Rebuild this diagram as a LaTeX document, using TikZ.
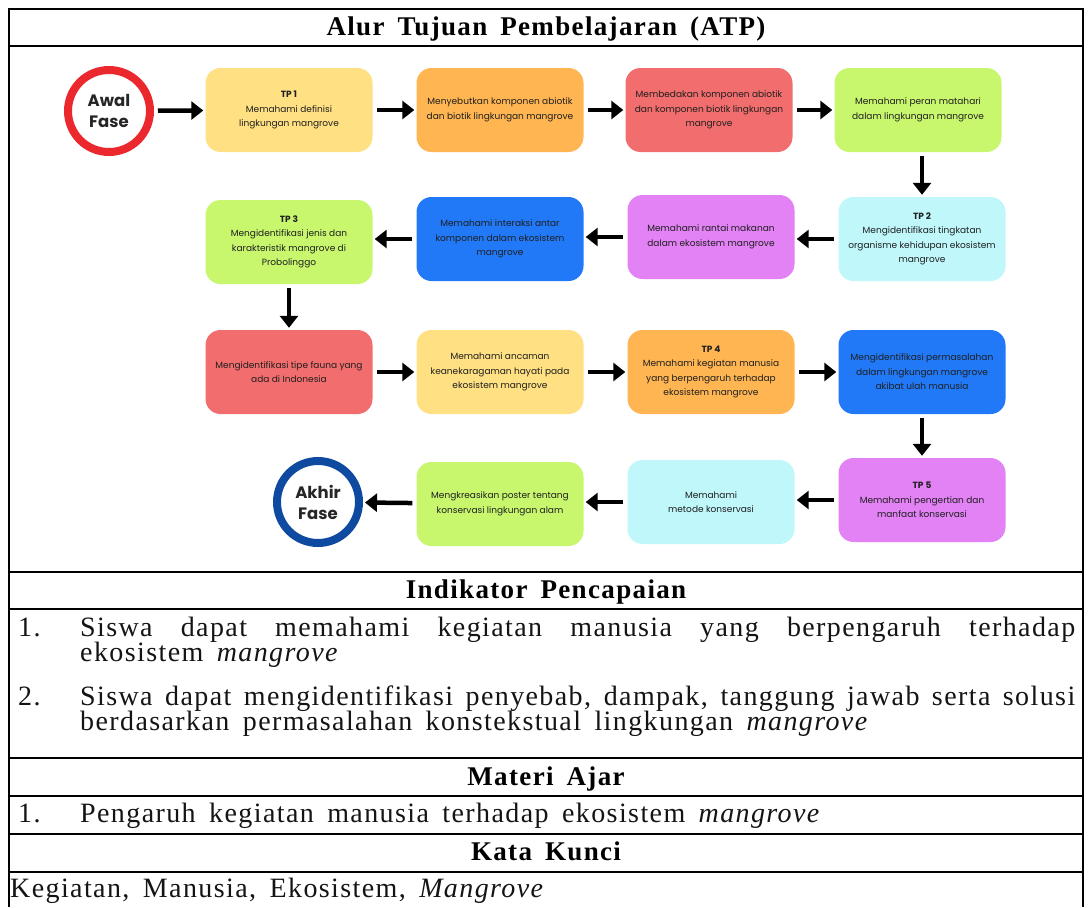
\documentclass[tikz,border=0pt]{standalone}
\usepackage{fontspec}
\setmainfont{Liberation Serif}[LetterSpace=5,WordSpace=1.6]
\newfontfamily\boxfont{Poppins}
\usetikzlibrary{arrows.meta}
\definecolor{cyel}{HTML}{FFE083}
\definecolor{cora}{HTML}{FFB552}
\definecolor{cred}{HTML}{F26D6D}
\definecolor{cgrn}{HTML}{C8F76E}
\definecolor{ccya}{HTML}{BFF7FA}
\definecolor{cpur}{HTML}{E282F4}
\definecolor{cblu}{HTML}{2179F7}
\definecolor{ringred}{HTML}{EB282D}
\definecolor{ringblue}{HTML}{0E4BA0}
\begin{document}
\begin{tikzpicture}[x=1pt,y=-1pt,
  tpbox/.style={rounded corners=15pt, minimum width=167pt, minimum height=84pt, inner sep=0pt, align=center, font=\boxfont\fontsize{9}{14.5}\selectfont, text=black!88},
  ring/.style={circle, minimum size=82pt, line width=8pt, fill=white, inner sep=0pt, align=center, font=\boxfont\bfseries\fontsize{16.5}{21}\selectfont, text=black!85},
  arr/.style={line width=4.5pt, -{Triangle[length=12pt,width=18pt]}, shorten <=4pt, shorten >=2pt},
  rule/.style={line width=2pt},
  body/.style={anchor=base west, inner sep=0pt, font=\fontsize{28}{25}\selectfont, text=black!92},
  head/.style={anchor=base, inner sep=0pt, font=\bfseries\fontsize{27}{28}\selectfont}]
\useasboundingbox (0,0) rectangle (1091,907);
% table
\foreach \yy in {9,46.5,571.5,609,758,796,834,872}{\draw[rule] (9,\yy) -- (1083,\yy);}
\draw[rule] (9,8) -- (9,907);
\draw[rule] (1083,8) -- (1083,907);
% headings
\node[head] (title) at (546,36) {Alur Tujuan Pembelajaran (ATP)};
\node[head] (ind) at (546,598) {Indikator Pencapaian};
\node[head] (mat) at (546,785) {Materi Ajar};
\node[head] (kk) at (546,860) {Kata Kunci};
% indicators
\node[body] (n1) at (18,636) {1.};
\node[body] (i1a) at (80,636) {\makebox[995pt][s]{Siswa dapat memahami kegiatan manusia yang berpengaruh terhadap}};
\node[body] (i1b) at (80,661) {ekosistem \textit{mangrove}};
\node[body] (n2) at (18,705) {2.};
\node[body] (i2a) at (80,705) {\makebox[995pt][s]{Siswa dapat mengidentifikasi penyebab, dampak, tanggung jawab serta solusi}};
\node[body] (i2b) at (80,730) {berdasarkan permasalahan konstekstual lingkungan \textit{mangrove}};
\node[body] (n3) at (18,822) {1.};
\node[body] (m1) at (80,822) {Pengaruh kegiatan manusia terhadap ekosistem \textit{mangrove}};
\node[body] (k1) at (10,897) {Kegiatan, Manusia, Ekosistem, \textit{Mangrove}};
% flowchart row 1
\node[ring, draw=ringred] (awal) at (109,111) {Awal\\Fase};
\node[tpbox, fill=cyel] (b11) at (289,110) {\textbf{TP 1}\\Memahami definisi\\lingkungan mangrove};
\node[tpbox, fill=cora] (b12) at (500,110) {Menyebutkan komponen abiotik\\dan biotik lingkungan mangrove};
\node[tpbox, fill=cred] (b13) at (709,110) {Membedakan komponen abiotik\\dan komponen biotik lingkungan\\mangrove};
\node[tpbox, fill=cgrn] (b14) at (918,110) {Memahami peran matahari\\dalam lingkungan mangrove};
% row 2
\node[tpbox, fill=ccya] (b24) at (922,239) {\textbf{TP 2}\\Mengidentifikasi tingkatan\\organisme kehidupan ekosistem\\mangrove};
\node[tpbox, fill=cpur] (b23) at (711,237) {Memahami rantai makanan\\dalam ekosistem mangrove};
\node[tpbox, fill=cblu] (b22) at (500,239) {Memahami interaksi antar\\komponen dalam ekosistem\\mangrove};
\node[tpbox, fill=cgrn] (b21) at (289,242) {\textbf{TP 3}\\Mengidentifikasi jenis dan\\karakteristik mangrove di\\Probolinggo};
% row 3
\node[tpbox, fill=cred] (b31) at (289,372) {Mengidentifikasi tipe fauna yang\\ada di Indonesia};
\node[tpbox, fill=cyel] (b32) at (500,372) {Memahami ancaman\\keanekaragaman hayati pada\\ekosistem mangrove};
\node[tpbox, fill=cora] (b33) at (711,372) {\textbf{TP 4}\\Memahami kegiatan manusia\\yang berpengaruh terhadap\\ekosistem mangrove};
\node[tpbox, fill=cblu] (b34) at (922,372) {Mengidentifikasi permasalahan\\dalam lingkungan mangrove\\akibat ulah manusia};
% row 4
\node[tpbox, fill=cpur] (b44) at (922,500) {\textbf{TP 5}\\Memahami pengertian dan\\manfaat konservasi};
\node[tpbox, fill=ccya] (b43) at (711,502) {Memahami\\metode konservasi};
\node[tpbox, fill=cgrn] (b42) at (500,504) {Mengkreasikan poster tentang\\konservasi lingkungan alam};
\node[ring, draw=ringblue] (akhir) at (318,502) {Akhir\\Fase};
% arrows
\draw[arr] (awal) -- (b11);
\draw[arr] (b11) -- (b12);
\draw[arr] (b12) -- (b13);
\draw[arr] (b13) -- (b14);
\draw[arr] (b14.south -| b24.north) -- (b24.north);
\draw[arr] (b24) -- (b24 -| b23.east);
\draw[arr] (b23) -- (b23 -| b22.east);
\draw[arr] (b22) -- (b22 -| b21.east);
\draw[arr] (b21) -- (b31);
\draw[arr] (b31) -- (b32);
\draw[arr] (b32) -- (b33);
\draw[arr] (b33) -- (b34);
\draw[arr] (b34) -- (b44);
\draw[arr] (b44) -- (b44 -| b43.east);
\draw[arr] (b43) -- (b43 -| b42.east);
\draw[arr] (b42) -- (akhir);
\end{tikzpicture}
\end{document}
